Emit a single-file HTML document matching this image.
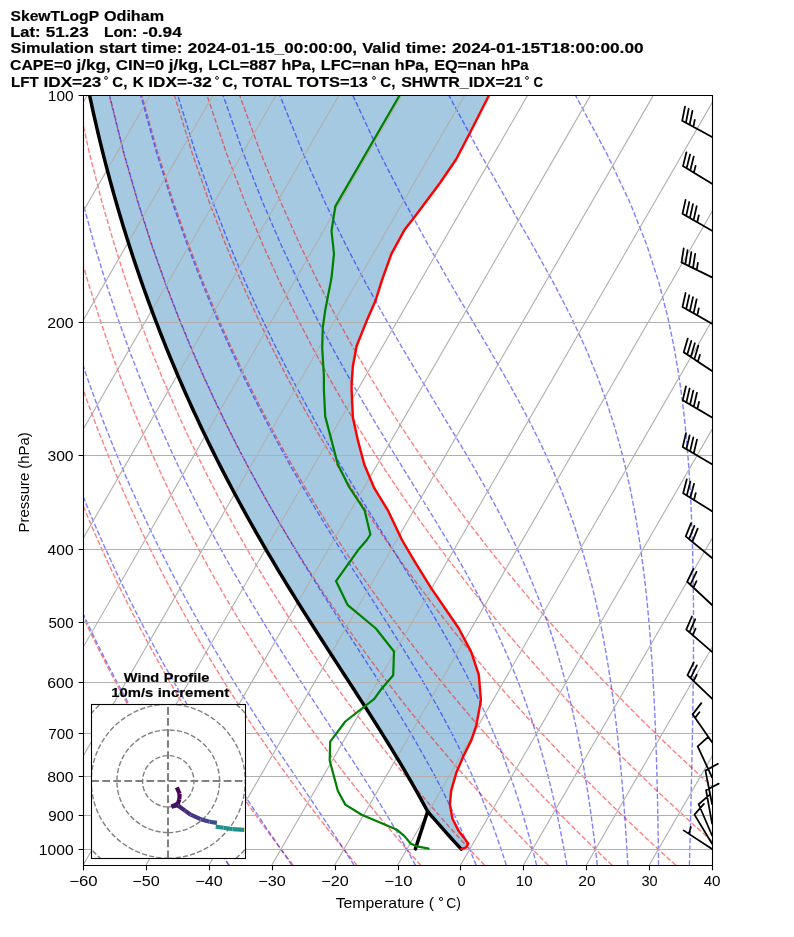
<!DOCTYPE html>
<html><head><meta charset="utf-8"><title>SkewT</title><style>html,body{margin:0;padding:0;background:#fff;width:794px;height:937px;overflow:hidden}</style></head><body>
<svg width="794" height="937" viewBox="0 0 794 937" style="display:block">
<defs><clipPath id="cm"><rect x="83.05" y="95.4" width="629" height="769.9"/></clipPath>
<clipPath id="ch"><rect x="91.25" y="704.25" width="154" height="154"/></clipPath></defs>
<rect width="794" height="937" fill="#fff"/>
<g clip-path="url(#cm)" stroke-linejoin="round">
<path d="M488.9 95.5L488.84 95.61L488.29 96.71L487.73 97.82L487.17 98.92L486.61 100.03L486.05 101.13L485.49 102.23L484.93 103.34L484.37 104.44L483.81 105.55L483.25 106.65L482.69 107.76L482.13 108.86L481.57 109.96L481.01 111.07L480.45 112.17L479.89 113.28L479.33 114.38L478.77 115.49L478.21 116.59L477.65 117.69L477.09 118.8L476.53 119.9L475.98 121.01L475.42 122.11L474.86 123.22L474.3 124.32L473.74 125.42L473.18 126.53L472.62 127.63L472.06 128.74L471.5 129.84L470.94 130.95L470.38 132.05L470 132.8L469.82 133.15L469.24 134.26L468.67 135.36L468.09 136.47L467.52 137.57L466.94 138.68L466.36 139.78L465.79 140.88L465.21 141.99L464.64 143.09L464.06 144.2L463.49 145.3L462.91 146.41L462.34 147.51L461.76 148.61L461.19 149.72L460.61 150.82L460.04 151.93L459.46 153.03L458.89 154.14L458.31 155.24L457.74 156.34L457.16 157.45L456.59 158.55L456.2 159.3L455.95 159.66L455.2 160.76L454.44 161.87L453.68 162.97L452.92 164.07L452.17 165.18L451.41 166.28L450.65 167.39L449.89 168.49L449.13 169.6L448.38 170.7L447.62 171.8L446.86 172.91L446.1 174.01L445.35 175.12L444.59 176.22L443.83 177.33L443.07 178.43L442.32 179.53L441.56 180.64L440.8 181.74L440.04 182.85L439.8 183.2L439.24 183.95L438.41 185.06L437.59 186.16L436.76 187.26L435.93 188.37L435.11 189.47L434.28 190.58L433.46 191.68L432.63 192.79L431.8 193.89L430.98 194.99L430.15 196.1L429.33 197.2L428.5 198.31L427.68 199.41L426.85 200.52L426.02 201.62L425.2 202.72L424.37 203.83L423.55 204.93L422.72 206.04L421.89 207.14L421.07 208.25L420.24 209.35L419.42 210.45L418.59 211.56L417.76 212.66L416.94 213.77L416.11 214.87L415.29 215.98L414.46 217.08L413.64 218.18L413.4 218.5L412.78 219.29L411.91 220.39L411.04 221.5L410.17 222.6L409.3 223.71L408.43 224.81L407.56 225.92L406.69 227.02L405.82 228.12L404.95 229.23L404.5 229.8L404.21 230.33L403.61 231.44L403.02 232.54L402.42 233.65L401.82 234.75L401.23 235.85L400.63 236.96L400.03 238.06L399.43 239.17L398.84 240.27L398.24 241.38L397.64 242.48L397.04 243.58L396.45 244.69L395.85 245.79L395.25 246.9L394.65 248L394.06 249.11L393.46 250.21L392.86 251.31L392.26 252.42L391.67 253.52L391.3 254.2L391.15 254.63L390.75 255.73L390.35 256.84L389.95 257.94L389.56 259.04L389.16 260.15L388.76 261.25L388.36 262.36L387.96 263.46L387.57 264.57L387.17 265.67L386.77 266.77L386.37 267.88L385.98 268.98L385.58 270.09L385.18 271.19L384.78 272.3L384.39 273.4L383.99 274.5L383.59 275.61L383.19 276.71L382.79 277.82L382.4 278.92L382 280.03L381.9 280.3L381.64 281.13L381.3 282.23L380.95 283.34L380.61 284.44L380.26 285.55L379.92 286.65L379.57 287.76L379.23 288.86L378.89 289.96L378.54 291.07L378.2 292.17L377.85 293.28L377.51 294.38L377.16 295.49L376.82 296.59L376.48 297.69L376.13 298.8L375.79 299.9L375.6 300.5L375.38 301.01L374.89 302.11L374.41 303.22L373.93 304.32L373.44 305.42L372.96 306.53L372.48 307.63L371.99 308.74L371.51 309.84L371.03 310.95L370.54 312.05L370.06 313.15L369.58 314.26L369.09 315.36L368.61 316.47L368.13 317.57L367.64 318.68L367.16 319.78L366.8 320.6L366.69 320.88L366.24 321.99L365.8 323.09L365.36 324.2L364.92 325.3L364.47 326.41L364.03 327.51L363.59 328.61L363.15 329.72L362.7 330.82L362.26 331.93L361.82 333.03L361.38 334.14L360.93 335.24L360.49 336.34L360.05 337.45L359.6 338.55L359.16 339.66L358.72 340.76L358.28 341.87L357.83 342.97L357.39 344.07L356.95 345.18L356.7 345.8L356.61 346.28L356.4 347.39L356.19 348.49L355.98 349.6L355.77 350.7L355.56 351.8L355.36 352.91L355.15 354.01L354.94 355.12L354.73 356.22L354.52 357.33L354.31 358.43L354.1 359.53L353.89 360.64L353.69 361.74L353.48 362.85L353.27 363.95L353.06 365.06L352.9 365.9L352.88 366.16L352.8 367.26L352.72 368.37L352.64 369.47L352.56 370.58L352.48 371.68L352.39 372.79L352.31 373.89L352.23 374.99L352.15 376.1L352.07 377.2L351.99 378.31L351.91 379.41L351.83 380.52L351.75 381.62L351.66 382.72L351.6 383.6L351.6 383.83L351.6 384.93L351.6 386.04L351.6 387.14L351.6 388.25L351.6 389.35L351.6 390L351.62 390.45L351.67 391.56L351.72 392.66L351.78 393.77L351.83 394.87L351.88 395.98L351.93 397.08L351.98 398.18L352.04 399.29L352.09 400.39L352.14 401.5L352.19 402.6L352.24 403.71L352.3 404.81L352.35 405.91L352.4 407.02L352.45 408.12L352.5 409.23L352.55 410.33L352.61 411.44L352.66 412.54L352.71 413.64L352.76 414.75L352.81 415.85L352.87 416.96L352.9 417.7L352.98 418.06L353.22 419.17L353.47 420.27L353.71 421.37L353.95 422.48L354.2 423.58L354.44 424.69L354.68 425.79L354.93 426.9L355.17 428L355.41 429.1L355.66 430.21L355.9 431.31L356.14 432.42L356.38 433.52L356.63 434.63L356.87 435.73L357.11 436.83L357.36 437.94L357.6 439.04L357.84 440.15L357.9 440.4L358.12 441.25L358.42 442.36L358.71 443.46L359 444.56L359.29 445.67L359.58 446.77L359.87 447.88L360.16 448.98L360.45 450.09L360.74 451.19L361.04 452.29L361.33 453.4L361.62 454.5L361.91 455.61L362.2 456.71L362.49 457.82L362.78 458.92L363.07 460.02L363.36 461.13L363.66 462.23L363.95 463.34L364.2 464.3L364.26 464.44L364.73 465.55L365.19 466.65L365.66 467.75L366.13 468.86L366.59 469.96L367.06 471.07L367.53 472.17L367.99 473.28L368.46 474.38L368.93 475.48L369.39 476.59L369.86 477.69L370.33 478.8L370.79 479.9L371.26 481.01L371.73 482.11L372.19 483.22L372.66 484.32L373.13 485.42L373.59 486.53L374.06 487.63L374.3 488.2L374.63 488.74L375.3 489.84L375.98 490.95L376.66 492.05L377.33 493.15L378.01 494.26L378.69 495.36L379.36 496.47L380.04 497.57L380.71 498.68L381.39 499.78L382.07 500.88L382.74 501.99L383.42 503.09L384.1 504.2L384.77 505.3L385.45 506.41L386.12 507.51L386.8 508.61L387.48 509.72L388.15 510.82L388.2 510.9L388.69 511.93L389.21 513.03L389.73 514.14L390.25 515.24L390.77 516.34L391.3 517.45L391.82 518.55L392.34 519.66L392.86 520.76L393.38 521.87L393.91 522.97L394.43 524.07L394.95 525.18L395.47 526.28L395.99 527.39L396.52 528.49L397.04 529.6L397.56 530.7L398.08 531.8L398.61 532.91L399.13 534.01L399.5 534.8L399.65 535.12L400.18 536.22L400.71 537.33L401.25 538.43L401.78 539.53L402 540L402.38 540.64L403.03 541.74L403.68 542.85L404.33 543.95L404.98 545.06L405.63 546.16L406.28 547.26L406.93 548.37L407.58 549.47L408.23 550.58L408.88 551.68L409.53 552.79L410.18 553.89L410.83 554.99L411.48 556.1L412.13 557.2L412.78 558.31L413.43 559.41L414.08 560.52L414.6 561.4L414.74 561.62L415.42 562.72L416.1 563.83L416.79 564.93L417.47 566.04L418.15 567.14L418.84 568.25L419.52 569.35L420.2 570.45L420.89 571.56L421.57 572.66L422.25 573.77L422.94 574.87L423.62 575.98L424.3 577.08L424.99 578.18L425.67 579.29L426.35 580.39L427.04 581.5L427.72 582.6L428.4 583.71L429.09 584.81L429.77 585.91L430.45 587.02L431 587.9L431.15 588.12L431.91 589.23L432.67 590.33L433.43 591.44L434.19 592.54L434.94 593.64L435.7 594.75L436.46 595.85L437.22 596.96L437.98 598.06L438.73 599.17L439.49 600.27L440.25 601.37L441.01 602.48L441.77 603.58L442.53 604.69L443.28 605.79L444.04 606.9L444.8 608L445.56 609.1L446.32 610.21L447.08 611.31L447.84 612.42L448.6 613.52L449.36 614.63L450.12 615.73L450.88 616.83L451.64 617.94L452.4 619.04L453.16 620.15L453.92 621.25L454.68 622.36L455.44 623.46L456.2 624.56L456.96 625.67L457.72 626.77L458.48 627.88L458.7 628.2L459.11 628.98L459.69 630.09L460.28 631.19L460.86 632.29L461.44 633.4L462.02 634.5L462.61 635.61L463.19 636.71L463.77 637.82L464.35 638.92L464.93 640.02L465.52 641.13L466.1 642.23L466.68 643.34L467.26 644.44L467.84 645.55L468.43 646.65L469.01 647.75L469.59 648.86L470.17 649.96L470.76 651.07L471.3 652.1L471.32 652.17L471.69 653.28L472.05 654.38L472.42 655.48L472.78 656.59L473.15 657.69L473.51 658.8L473.88 659.9L474.24 661.01L474.61 662.11L474.97 663.21L475.34 664.32L475.7 665.42L476.07 666.53L476.43 667.63L476.8 668.74L477.16 669.84L477.53 670.94L477.89 672.05L478.26 673.15L478.62 674.26L478.8 674.8L478.85 675.36L478.94 676.47L479.03 677.57L479.12 678.67L479.21 679.78L479.31 680.88L479.4 681.99L479.49 683.09L479.58 684.2L479.68 685.3L479.77 686.4L479.86 687.51L479.95 688.61L480.04 689.72L480.14 690.82L480.23 691.93L480.32 693.03L480.41 694.13L480.5 695.24L480.6 696.34L480.69 697.45L480.78 698.55L480.87 699.66L480.9 700L480.78 700.76L480.61 701.86L480.43 702.97L480.26 704.07L480.1 705.1L480.09 705.18L479.88 706.28L479.67 707.39L479.46 708.49L479.25 709.59L479.05 710.7L478.84 711.8L478.63 712.91L478.42 714.01L478.22 715.12L478.01 716.22L477.8 717.32L477.59 718.43L477.38 719.53L477.18 720.64L476.97 721.74L476.76 722.85L476.55 723.95L476.35 725.05L476.3 725.3L476.02 726.16L475.65 727.26L475.28 728.37L474.92 729.47L474.55 730.58L474.19 731.68L473.82 732.78L473.46 733.89L473.09 734.99L472.72 736.1L472.36 737.2L471.99 738.31L471.63 739.41L471.3 740.4L471.24 740.52L470.69 741.62L470.13 742.72L469.57 743.83L469.02 744.93L468.46 746.04L467.91 747.14L467.35 748.25L466.8 749.35L466.24 750.45L465.68 751.56L465.13 752.66L464.57 753.77L464.02 754.87L463.7 755.5L463.5 755.98L463.03 757.08L462.56 758.18L462.09 759.29L461.62 760.39L461.14 761.5L460.67 762.6L460.2 763.71L459.73 764.81L459.26 765.91L458.79 767.02L458.32 768.12L457.85 769.23L457.38 770.33L456.91 771.44L456.44 772.54L456.2 773.1L456.04 773.64L455.73 774.75L455.41 775.85L455.09 776.96L454.77 778.06L454.45 779.17L454.13 780.27L453.82 781.37L453.5 782.48L453.18 783.58L452.86 784.69L452.54 785.79L452.23 786.9L451.91 788L451.59 789.1L451.27 790.21L451.1 790.8L451.06 791.31L450.96 792.42L450.86 793.52L450.77 794.63L450.67 795.73L450.58 796.83L450.48 797.94L450.38 799.04L450.29 800.15L450.19 801.25L450.1 802.36L450 803.46L449.9 804.56L449.9 804.6L450.09 805.67L450.29 806.77L450.49 807.88L450.69 808.98L450.89 810.09L451.09 811.19L451.28 812.29L451.48 813.4L451.68 814.5L451.88 815.61L452.08 816.71L452.28 817.82L452.4 818.5L452.61 818.92L453.16 820.02L453.71 821.13L454.27 822.23L454.82 823.34L455.37 824.44L455.92 825.55L456.47 826.65L457.03 827.75L457.58 828.86L458.13 829.96L458.68 831.07L458.7 831.1L459.55 832.17L460.43 833.28L461.3 834.38L462.18 835.48L463.06 836.59L463.7 837.4L463.91 837.69L464.72 838.8L465.53 839.9L466.33 841.01L467.14 842.11L467.95 843.21L468.3 843.7L467.95 844.32L467.32 845.42L466.7 846.53L466.2 847.4L465.56 847.63L462.49 848.74L460.78 848.74L459.77 847.63L459.56 847.4L458.76 846.53L457.76 845.42L456.75 844.32L456.19 843.7L455.75 843.21L454.75 842.11L453.75 841.01L452.75 839.9L451.76 838.8L450.77 837.69L450.5 837.4L449.77 836.59L448.78 835.48L447.79 834.38L446.8 833.28L445.82 832.17L444.86 831.1L444.83 831.07L443.85 829.96L442.87 828.86L441.89 827.75L440.91 826.65L439.93 825.55L438.96 824.44L437.98 823.34L437.01 822.23L436.04 821.13L435.07 820.02L434.1 818.92L433.74 818.5L433.14 817.82L432.17 816.71L431.21 815.61L430.25 814.5L429.29 813.4L428.33 812.29L427.46 811.19L426.87 810.09L426.28 808.98L425.68 807.88L425.09 806.77L424.5 805.67L423.92 804.6L423.9 804.56L423.3 803.46L422.69 802.36L422.09 801.25L421.49 800.15L420.89 799.04L420.27 797.94L419.66 796.83L419.05 795.73L418.44 794.63L417.82 793.52L417.21 792.42L416.58 791.31L416.29 790.8L415.96 790.21L415.34 789.1L414.72 788L414.09 786.9L413.46 785.79L412.83 784.69L412.2 783.58L411.57 782.48L410.94 781.37L410.3 780.27L409.66 779.17L409.02 778.06L408.38 776.96L407.74 775.85L407.1 774.75L406.45 773.64L406.13 773.1L405.8 772.54L405.16 771.44L404.51 770.33L403.86 769.23L403.21 768.12L402.55 767.02L401.89 765.91L401.23 764.81L400.58 763.71L399.92 762.6L399.26 761.5L398.59 760.39L397.93 759.29L397.26 758.18L396.6 757.08L395.93 755.98L395.64 755.5L395.26 754.87L394.59 753.77L393.92 752.66L393.24 751.56L392.57 750.45L391.9 749.35L391.22 748.25L390.54 747.14L389.86 746.04L389.18 744.93L388.5 743.83L387.82 742.72L387.13 741.62L386.45 740.52L386.38 740.4L385.76 739.41L385.08 738.31L384.39 737.2L383.7 736.1L383.01 734.99L382.32 733.89L381.62 732.78L380.93 731.68L380.24 730.58L379.54 729.47L378.85 728.37L378.15 727.26L377.45 726.16L376.91 725.3L376.76 725.05L376.06 723.95L375.36 722.85L374.66 721.74L373.95 720.64L373.25 719.53L372.55 718.43L371.85 717.32L371.14 716.22L370.44 715.12L369.73 714.01L369.03 712.91L368.32 711.8L367.61 710.7L366.9 709.59L366.19 708.49L365.48 707.39L364.77 706.28L364.06 705.18L364.01 705.1L363.35 704.07L362.64 702.97L361.93 701.86L361.22 700.76L360.73 700L360.51 699.66L359.79 698.55L359.08 697.45L358.36 696.34L357.65 695.24L356.94 694.13L356.22 693.03L355.51 691.93L354.79 690.82L354.08 689.72L353.36 688.61L352.64 687.51L351.93 686.4L351.21 685.3L350.49 684.2L349.78 683.09L349.06 681.99L348.34 680.88L347.63 679.78L346.91 678.67L346.19 677.57L345.47 676.47L344.76 675.36L344.39 674.8L344.04 674.26L343.32 673.15L342.6 672.05L341.89 670.94L341.17 669.84L340.45 668.74L339.74 667.63L339.02 666.53L338.3 665.42L337.58 664.32L336.87 663.21L336.15 662.11L335.43 661.01L334.72 659.9L334 658.8L333.29 657.69L332.57 656.59L331.85 655.48L331.14 654.38L330.42 653.28L329.71 652.17L329.66 652.1L328.99 651.07L328.28 649.96L327.57 648.86L326.85 647.75L326.14 646.65L325.43 645.55L324.72 644.44L324 643.34L323.29 642.23L322.58 641.13L321.87 640.02L321.16 638.92L320.45 637.82L319.74 636.71L319.03 635.61L318.32 634.5L317.62 633.4L316.91 632.29L316.2 631.19L315.5 630.09L314.79 628.98L314.29 628.2L314.08 627.88L313.38 626.77L312.68 625.67L311.97 624.56L311.27 623.46L310.57 622.36L309.86 621.25L309.16 620.15L308.46 619.04L307.77 617.94L307.07 616.83L306.37 615.73L305.67 614.63L304.97 613.52L304.28 612.42L303.58 611.31L302.89 610.21L302.19 609.1L301.5 608L300.8 606.9L300.11 605.79L299.42 604.69L298.73 603.58L298.04 602.48L297.35 601.37L296.66 600.27L295.98 599.17L295.29 598.06L294.6 596.96L293.92 595.85L293.23 594.75L292.55 593.64L291.87 592.54L291.19 591.44L290.5 590.33L289.82 589.23L289.15 588.12L289.01 587.9L288.47 587.02L287.79 585.91L287.11 584.81L286.44 583.71L285.76 582.6L285.09 581.5L284.42 580.39L283.75 579.29L283.07 578.18L282.4 577.08L281.74 575.98L281.07 574.87L280.4 573.77L279.73 572.66L279.07 571.56L278.4 570.45L277.74 569.35L277.08 568.25L276.42 567.14L275.75 566.04L275.09 564.93L274.44 563.83L273.78 562.72L273.12 561.62L272.99 561.4L272.47 560.52L271.81 559.41L271.16 558.31L270.51 557.2L269.85 556.1L269.2 554.99L268.55 553.89L267.9 552.79L267.26 551.68L266.61 550.58L265.97 549.47L265.32 548.37L264.67 547.26L264.03 546.16L263.39 545.06L262.75 543.95L262.11 542.85L261.47 541.74L260.83 540.64L260.47 540L260.2 539.53L259.57 538.43L258.93 537.33L258.3 536.22L257.66 535.12L257.48 534.8L257.03 534.01L256.4 532.91L255.78 531.8L255.15 530.7L254.52 529.6L253.89 528.49L253.27 527.39L252.65 526.28L252.03 525.18L251.4 524.07L250.78 522.97L250.16 521.87L249.54 520.76L248.93 519.66L248.31 518.55L247.7 517.45L247.08 516.34L246.47 515.24L245.86 514.14L245.25 513.03L244.64 511.93L244.07 510.9L244.03 510.82L243.42 509.72L242.82 508.61L242.21 507.51L241.61 506.41L241.01 505.3L240.4 504.2L239.8 503.09L239.2 501.99L238.61 500.88L238.01 499.78L237.41 498.68L236.81 497.57L236.22 496.47L235.63 495.36L235.04 494.26L234.45 493.15L233.86 492.05L233.27 490.95L232.68 489.84L232.1 488.74L231.81 488.2L231.51 487.63L230.93 486.53L230.34 485.42L229.76 484.32L229.18 483.22L228.6 482.11L228.02 481.01L227.45 479.9L226.87 478.8L226.29 477.69L225.72 476.59L225.15 475.48L224.58 474.38L224 473.28L223.43 472.17L222.87 471.07L222.3 469.96L221.74 468.86L221.17 467.75L220.6 466.65L220.04 465.55L219.48 464.44L219.41 464.3L218.92 463.34L218.36 462.23L217.8 461.13L217.24 460.02L216.69 458.92L216.14 457.82L215.58 456.71L215.03 455.61L214.47 454.5L213.92 453.4L213.38 452.29L212.83 451.19L212.28 450.09L211.73 448.98L211.19 447.88L210.65 446.77L210.1 445.67L209.56 444.56L209.02 443.46L208.48 442.36L207.94 441.25L207.53 440.4L207.41 440.15L206.87 439.04L206.33 437.94L205.8 436.83L205.26 435.73L204.74 434.63L204.21 433.52L203.68 432.42L203.15 431.31L202.62 430.21L202.09 429.1L201.57 428L201.05 426.9L200.52 425.79L200 424.69L199.48 423.58L198.96 422.48L198.44 421.37L197.92 420.27L197.41 419.17L196.89 418.06L196.72 417.7L196.38 416.96L195.86 415.85L195.35 414.75L194.84 413.64L194.33 412.54L193.82 411.44L193.32 410.33L192.81 409.23L192.31 408.12L191.8 407.02L191.3 405.91L190.79 404.81L190.29 403.71L189.79 402.6L189.3 401.5L188.8 400.39L188.3 399.29L187.8 398.18L187.31 397.08L186.82 395.98L186.33 394.87L185.83 393.77L185.34 392.66L184.85 391.56L184.37 390.45L184.17 390L183.88 389.35L183.39 388.25L182.91 387.14L182.42 386.04L181.94 384.93L181.46 383.83L181.36 383.6L180.98 382.72L180.5 381.62L180.02 380.52L179.54 379.41L179.07 378.31L178.59 377.2L178.12 376.1L177.64 374.99L177.17 373.89L176.7 372.79L176.23 371.68L175.76 370.58L175.3 369.47L174.83 368.37L174.36 367.26L173.9 366.16L173.79 365.9L173.44 365.06L172.97 363.95L172.51 362.85L172.05 361.74L171.59 360.64L171.13 359.53L170.68 358.43L170.22 357.33L169.76 356.22L169.31 355.12L168.86 354.01L168.41 352.91L167.96 351.8L167.5 350.7L167.05 349.6L166.61 348.49L166.16 347.39L165.72 346.28L165.52 345.8L165.27 345.18L164.83 344.07L164.38 342.97L163.94 341.87L163.5 340.76L163.06 339.66L162.63 338.55L162.19 337.45L161.75 336.34L161.32 335.24L160.88 334.14L160.45 333.03L160.02 331.93L159.58 330.82L159.16 329.72L158.73 328.61L158.3 327.51L157.87 326.41L157.44 325.3L157.02 324.2L156.6 323.09L156.17 321.99L155.75 320.88L155.64 320.6L155.33 319.78L154.91 318.68L154.49 317.57L154.07 316.47L153.66 315.36L153.24 314.26L152.82 313.15L152.41 312.05L152 310.95L151.59 309.84L151.18 308.74L150.77 307.63L150.35 306.53L149.95 305.42L149.54 304.32L149.14 303.22L148.73 302.11L148.33 301.01L148.14 300.5L147.92 299.9L147.52 298.8L147.12 297.69L146.72 296.59L146.32 295.49L145.92 294.38L145.53 293.28L145.13 292.17L144.74 291.07L144.35 289.96L143.95 288.86L143.56 287.76L143.17 286.65L142.78 285.55L142.39 284.44L142 283.34L141.61 282.23L141.23 281.13L140.94 280.3L140.85 280.03L140.46 278.92L140.08 277.82L139.7 276.71L139.31 275.61L138.93 274.5L138.56 273.4L138.18 272.3L137.8 271.19L137.42 270.09L137.05 268.98L136.68 267.88L136.3 266.77L135.93 265.67L135.56 264.57L135.19 263.46L134.82 262.36L134.45 261.25L134.08 260.15L133.72 259.04L133.35 257.94L132.99 256.84L132.62 255.73L132.26 254.63L132.12 254.2L131.9 253.52L131.54 252.42L131.18 251.31L130.82 250.21L130.46 249.11L130.11 248L129.75 246.9L129.4 245.79L129.04 244.69L128.69 243.58L128.34 242.48L127.99 241.38L127.64 240.27L127.29 239.17L126.94 238.06L126.59 236.96L126.25 235.85L125.9 234.75L125.56 233.65L125.21 232.54L124.87 231.44L124.53 230.33L124.36 229.8L124.19 229.23L123.85 228.12L123.51 227.02L123.17 225.92L122.83 224.81L122.5 223.71L122.16 222.6L121.83 221.5L121.49 220.39L121.16 219.29L120.93 218.5L120.83 218.18L120.5 217.08L120.17 215.98L119.84 214.87L119.52 213.77L119.19 212.66L118.87 211.56L118.54 210.45L118.22 209.35L117.89 208.25L117.57 207.14L117.25 206.04L116.93 204.93L116.61 203.83L116.29 202.72L115.97 201.62L115.66 200.52L115.35 199.41L115.03 198.31L114.72 197.2L114.4 196.1L114.09 194.99L113.78 193.89L113.47 192.79L113.16 191.68L112.85 190.58L112.54 189.47L112.24 188.37L111.94 187.26L111.63 186.16L111.33 185.06L111.02 183.95L110.82 183.2L110.72 182.85L110.42 181.74L110.12 180.64L109.82 179.53L109.52 178.43L109.22 177.33L108.93 176.22L108.64 175.12L108.34 174.01L108.05 172.91L107.75 171.8L107.46 170.7L107.17 169.6L106.88 168.49L106.59 167.39L106.3 166.28L106.01 165.18L105.73 164.07L105.44 162.97L105.16 161.87L104.88 160.76L104.59 159.66L104.5 159.3L104.31 158.55L104.03 157.45L103.75 156.34L103.47 155.24L103.19 154.14L102.91 153.03L102.63 151.93L102.36 150.82L102.09 149.72L101.81 148.61L101.54 147.51L101.26 146.41L100.99 145.3L100.72 144.2L100.45 143.09L100.18 141.99L99.91 140.88L99.65 139.78L99.38 138.68L99.12 137.57L98.85 136.47L98.59 135.36L98.32 134.26L98.06 133.15L97.98 132.8L97.8 132.05L97.54 130.95L97.28 129.84L97.02 128.74L96.77 127.63L96.51 126.53L96.26 125.42L96 124.32L95.75 123.22L95.49 122.11L95.24 121.01L94.99 119.9L94.74 118.8L94.49 117.69L94.24 116.59L93.99 115.49L93.74 114.38L93.5 113.28L93.25 112.17L93.01 111.07L92.76 109.96L92.52 108.86L92.28 107.76L92.04 106.65L91.8 105.55L91.55 104.44L91.31 103.34L91.08 102.23L90.84 101.13L90.61 100.03L90.37 98.92L90.13 97.82L89.9 96.71L89.67 95.61L89.65 95.5Z" fill="#1f77b4" fill-opacity="0.4"/>
<path d="M229.44 865.3L225.06 859.2L220.65 852.98L216.19 846.64L211.7 840.18L207.16 833.58L202.57 826.85L197.94 819.98L193.27 812.97L188.54 805.79L183.77 798.46L178.95 790.96L174.08 783.29L169.16 775.43L164.18 767.37L159.14 759.12L154.05 750.65L148.9 741.95L143.69 733.02L138.42 723.83L133.08 714.39L127.68 704.66L122.2 694.63L116.66 684.29L111.05 673.61L105.36 662.57L99.6 651.14L93.75 639.3L87.83 627.02L81.82 614.25L75.72 600.97L69.54 587.13L63.26 572.68L56.89 557.56L50.43 541.7L43.86 525.04L37.2 507.49L30.44 488.94L23.57 469.28L16.61 448.36L9.55 426.02L2.41 402.03L-4.82 376.15L-12.1 348.05L-19.41 317.3L-26.72 283.37L-33.95 245.51L-40.98 202.69L-47.64 153.42L-53.58 95.4M293.22 865.3L288.51 859.2L283.75 852.98L278.95 846.64L274.1 840.18L269.2 833.58L264.25 826.85L259.25 819.98L254.2 812.97L249.1 805.79L243.94 798.46L238.73 790.96L233.46 783.29L228.13 775.43L222.74 767.37L217.28 759.12L211.76 750.65L206.17 741.95L200.52 733.02L194.79 723.83L188.99 714.39L183.12 704.66L177.16 694.63L171.13 684.29L165.01 673.61L158.8 662.57L152.51 651.14L146.12 639.3L139.64 627.02L133.05 614.25L126.37 600.97L119.58 587.13L112.67 572.68L105.65 557.56L98.52 541.7L91.26 525.04L83.88 507.49L76.36 488.94L68.72 469.28L60.94 448.36L53.03 426.02L44.98 402.03L36.81 376.15L28.52 348.05L20.12 317.3L11.67 283.37L3.19 245.51L-5.2 202.69L-13.36 153.42L-21.01 95.4M357 865.3L351.95 859.2L346.85 852.98L341.7 846.64L336.5 840.18L331.24 833.58L325.93 826.85L320.56 819.98L315.14 812.97L309.66 805.79L304.11 798.46L298.51 790.96L292.84 783.29L287.1 775.43L281.29 767.37L275.42 759.12L269.47 750.65L263.45 741.95L257.35 733.02L251.17 723.83L244.91 714.39L238.56 704.66L232.12 694.63L225.59 684.29L218.97 673.61L212.24 662.57L205.42 651.14L198.49 639.3L191.45 627.02L184.29 614.25L177.01 600.97L169.61 587.13L162.08 572.68L154.42 557.56L146.61 541.7L138.66 525.04L130.55 507.49L122.29 488.94L113.87 469.28L105.27 448.36L96.5 426.02L87.56 402.03L78.43 376.15L69.13 348.05L59.66 317.3L50.05 283.37L40.33 245.51L30.57 202.69L20.91 153.42L11.57 95.4M420.79 865.3L415.39 859.2L409.95 852.98L404.45 846.64L398.89 840.18L393.28 833.58L387.61 826.85L381.87 819.98L376.07 812.97L370.21 805.79L364.28 798.46L358.28 790.96L352.21 783.29L346.07 775.43L339.85 767.37L333.56 759.12L327.18 750.65L320.72 741.95L314.18 733.02L307.54 723.83L300.82 714.39L294 704.66L287.08 694.63L280.05 684.29L272.93 673.61L265.69 662.57L258.33 651.14L250.85 639.3L243.25 627.02L235.52 614.25L227.66 600.97L219.65 587.13L211.49 572.68L203.18 557.56L194.7 541.7L186.06 525.04L177.23 507.49L168.22 488.94L159.01 469.28L149.6 448.36L139.98 426.02L130.13 402.03L120.05 376.15L109.75 348.05L99.2 317.3L88.44 283.37L77.47 245.51L66.35 202.69L55.18 153.42L44.15 95.4M484.57 865.3L478.84 859.2L473.05 852.98L467.2 846.64L461.29 840.18L455.32 833.58L449.29 826.85L443.18 819.98L437.01 812.97L430.77 805.79L424.45 798.46L418.06 790.96L411.59 783.29L405.04 775.43L398.41 767.37L391.7 759.12L384.89 750.65L378 741.95L371.01 733.02L363.92 723.83L356.73 714.39L349.44 704.66L342.03 694.63L334.52 684.29L326.88 673.61L319.13 662.57L311.24 651.14L303.22 639.3L295.06 627.02L286.76 614.25L278.3 600.97L269.68 587.13L260.9 572.68L251.94 557.56L242.79 541.7L233.45 525.04L223.91 507.49L214.15 488.94L204.16 469.28L193.93 448.36L183.45 426.02L172.7 402.03L161.68 376.15L150.36 348.05L138.74 317.3L126.82 283.37L114.61 245.51L102.13 202.69L89.45 153.42L76.73 95.4M548.35 865.3L542.28 859.2L536.15 852.98L529.96 846.64L523.69 840.18L517.36 833.58L510.96 826.85L504.49 819.98L497.95 812.97L491.32 805.79L484.62 798.46L477.84 790.96L470.97 783.29L464.01 775.43L456.97 767.37L449.83 759.12L442.6 750.65L435.27 741.95L427.84 733.02L420.3 723.83L412.64 714.39L404.88 704.66L396.99 694.63L388.98 684.29L380.84 673.61L372.57 662.57L364.15 651.14L355.59 639.3L346.87 627.02L337.99 614.25L328.95 600.97L319.72 587.13L310.31 572.68L300.7 557.56L290.89 541.7L280.85 525.04L270.59 507.49L260.08 488.94L249.31 469.28L238.26 448.36L226.92 426.02L215.28 402.03L203.3 376.15L190.97 348.05L178.28 317.3L165.21 283.37L151.75 245.51L137.9 202.69L123.72 153.42L109.31 95.4M612.13 865.3L605.73 859.2L599.25 852.98L592.71 846.64L586.09 840.18L579.41 833.58L572.64 826.85L565.8 819.98L558.88 812.97L551.88 805.79L544.79 798.46L537.61 790.96L530.35 783.29L522.99 775.43L515.53 767.37L507.97 759.12L500.31 750.65L492.55 741.95L484.67 733.02L476.67 723.83L468.56 714.39L460.32 704.66L451.95 694.63L443.45 684.29L434.8 673.61L426.01 662.57L417.06 651.14L407.96 639.3L398.68 627.02L389.23 614.25L379.59 600.97L369.76 587.13L359.72 572.68L349.46 557.56L338.98 541.7L328.25 525.04L317.26 507.49L306 488.94L294.45 469.28L282.59 448.36L270.4 426.02L257.85 402.03L244.92 376.15L231.59 348.05L217.82 317.3L203.6 283.37L188.89 245.51L173.68 202.69L157.99 153.42L141.89 95.4M675.92 865.3L669.17 859.2L662.35 852.98L655.46 846.64L648.49 840.18L641.45 833.58L634.32 826.85L627.11 819.98L619.82 812.97L612.43 805.79L604.96 798.46L597.39 790.96L589.72 783.29L581.96 775.43L574.09 767.37L566.11 759.12L558.02 750.65L549.82 741.95L541.5 733.02L533.05 723.83L524.47 714.39L515.76 704.66L506.91 694.63L497.91 684.29L488.76 673.61L479.45 662.57L469.97 651.14L460.32 639.3L450.49 627.02L440.46 614.25L430.24 600.97L419.79 587.13L409.13 572.68L398.22 557.56L387.07 541.7L375.65 525.04L363.94 507.49L351.93 488.94L339.6 469.28L326.92 448.36L313.87 426.02L300.42 402.03L286.55 376.15L272.2 348.05L257.36 317.3L241.98 283.37L226.02 245.51L209.46 202.69L192.26 153.42L174.47 95.4M739.7 865.3L732.62 859.2L725.45 852.98L718.22 846.64L710.89 840.18L703.49 833.58L696 826.85L688.42 819.98L680.75 812.97L672.99 805.79L665.13 798.46L657.17 790.96L649.1 783.29L640.93 775.43L632.65 767.37L624.25 759.12L615.73 750.65L607.09 741.95L598.33 733.02L589.42 723.83L580.38 714.39L571.2 704.66L561.86 694.63L552.37 684.29L542.72 673.61L532.89 662.57L522.88 651.14L512.69 639.3L502.3 627.02L491.7 614.25L480.88 600.97L469.83 587.13L458.54 572.68L446.99 557.56L435.16 541.7L423.04 525.04L410.62 507.49L397.86 488.94L384.75 469.28L371.25 448.36L357.35 426.02L343 402.03L328.17 376.15L312.82 348.05L296.9 317.3L280.37 283.37L263.16 245.51L245.23 202.69L226.53 153.42L207.05 95.4M803.48 865.3L796.06 859.2L788.56 852.98L780.97 846.64L773.29 840.18L765.53 833.58L757.68 826.85L749.73 819.98L741.69 812.97L733.54 805.79L725.3 798.46L716.94 790.96L708.48 783.29L699.9 775.43L691.21 767.37L682.39 759.12L673.44 750.65L664.37 741.95L655.15 733.02L645.8 723.83L636.3 714.39L626.64 704.66L616.82 694.63L606.84 684.29L596.68 673.61L586.33 662.57L575.79 651.14L565.06 639.3L554.11 627.02L542.93 614.25L531.52 600.97L519.87 587.13L507.95 572.68L495.75 557.56L483.25 541.7L470.44 525.04L457.3 507.49L443.79 488.94L429.89 469.28L415.58 448.36L400.82 426.02L385.57 402.03L369.79 376.15L353.43 348.05L336.44 317.3L318.75 283.37L300.3 245.51L281.01 202.69L260.8 153.42L239.63 95.4" stroke="#ff0000" stroke-opacity="0.5" stroke-width="1.39" fill="none" stroke-dasharray="5.14 2.22"/>
<path d="M228.87 865.3L224.73 859.2L220.53 852.98L216.27 846.64L211.96 840.18L207.58 833.58L203.15 826.85L198.65 819.98L194.1 812.97L189.48 805.79L184.81 798.46L180.07 790.96L175.27 783.29L170.41 775.43L165.49 767.37L160.5 759.12L155.45 750.65L150.33 741.95L145.14 733.02L139.89 723.83L134.57 714.39L129.17 704.66L123.71 694.63L118.17 684.29L112.56 673.61L106.86 662.57L101.09 651.14L95.24 639.3L89.31 627.02L83.28 614.25L77.18 600.97L70.98 587.13L64.68 572.68L58.3 557.56L51.81 541.7L45.23 525.04L38.54 507.49L31.76 488.94L24.87 469.28L17.89 448.36L10.81 426.02L3.64 402.03L-3.62 376.15L-10.93 348.05L-18.27 317.3L-25.61 283.37L-32.87 245.51L-39.95 202.69L-46.65 153.42L-52.65 95.4M291.85 865.3L287.7 859.2L283.46 852.98L279.15 846.64L274.74 840.18L270.26 833.58L265.7 826.85L261.05 819.98L256.32 812.97L251.5 805.79L246.6 798.46L241.62 790.96L236.56 783.29L231.41 775.43L226.18 767.37L220.86 759.12L215.46 750.65L209.97 741.95L204.4 733.02L198.74 723.83L192.99 714.39L187.15 704.66L181.22 694.63L175.2 684.29L169.09 673.61L162.88 662.57L156.58 651.14L150.17 639.3L143.67 627.02L137.05 614.25L130.33 600.97L123.5 587.13L116.56 572.68L109.49 557.56L102.31 541.7L95 525.04L87.56 507.49L79.99 488.94L72.28 469.28L64.44 448.36L56.46 426.02L48.34 402.03L40.09 376.15L31.72 348.05L23.25 317.3L14.7 283.37L6.13 245.51L-2.38 202.69L-10.66 153.42L-18.43 95.4M354.12 865.3L350.23 859.2L346.24 852.98L342.13 846.64L337.92 840.18L333.59 833.58L329.15 826.85L324.6 819.98L319.93 812.97L315.14 805.79L310.24 798.46L305.21 790.96L300.07 783.29L294.81 775.43L289.43 767.37L283.93 759.12L278.31 750.65L272.57 741.95L266.72 733.02L260.74 723.83L254.64 714.39L248.43 704.66L242.09 694.63L235.63 684.29L229.05 673.61L222.34 662.57L215.52 651.14L208.56 639.3L201.48 627.02L194.26 614.25L186.91 600.97L179.43 587.13L171.8 572.68L164.03 557.56L156.1 541.7L148.02 525.04L139.78 507.49L131.38 488.94L122.8 469.28L114.05 448.36L105.11 426.02L95.99 402.03L86.67 376.15L77.17 348.05L67.5 317.3L57.65 283.37L47.69 245.51L37.66 202.69L27.69 153.42L18.03 95.4M415.49 865.3L412.2 859.2L408.8 852.98L405.27 846.64L401.62 840.18L397.83 833.58L393.9 826.85L389.83 819.98L385.62 812.97L381.25 805.79L376.73 798.46L372.05 790.96L367.21 783.29L362.21 775.43L357.03 767.37L351.69 759.12L346.17 750.65L340.49 741.95L334.62 733.02L328.58 723.83L322.37 714.39L315.97 704.66L309.4 694.63L302.66 684.29L295.74 673.61L288.64 662.57L281.36 651.14L273.91 639.3L266.29 627.02L258.48 614.25L250.5 600.97L242.34 587.13L233.99 572.68L225.46 557.56L216.73 541.7L207.81 525.04L198.69 507.49L189.35 488.94L179.8 469.28L170.02 448.36L160.01 426.02L149.75 402.03L139.24 376.15L128.47 348.05L117.43 317.3L106.13 283.37L94.59 245.51L82.84 202.69L70.98 153.42L59.17 95.4M476.14 865.3L473.72 859.2L471.19 852.98L468.55 846.64L465.79 840.18L462.91 833.58L459.9 826.85L456.76 819.98L453.47 812.97L450.02 805.79L446.41 798.46L442.63 790.96L438.67 783.29L434.53 775.43L430.18 767.37L425.62 759.12L420.85 750.65L415.85 741.95L410.62 733.02L405.14 723.83L399.41 714.39L393.42 704.66L387.17 694.63L380.64 684.29L373.85 673.61L366.78 662.57L359.42 651.14L351.79 639.3L343.88 627.02L335.7 614.25L327.23 600.97L318.49 587.13L309.47 572.68L300.18 557.56L290.61 541.7L280.77 525.04L270.65 507.49L260.24 488.94L249.55 469.28L238.55 448.36L227.24 426.02L215.61 402.03L203.64 376.15L191.31 348.05L178.62 317.3L165.53 283.37L152.06 245.51L138.21 202.69L124.01 153.42L109.59 95.4M506.35 865.3L504.39 859.2L502.35 852.98L500.21 846.64L497.97 840.18L495.63 833.58L493.18 826.85L490.6 819.98L487.9 812.97L485.06 805.79L482.07 798.46L478.93 790.96L475.62 783.29L472.13 775.43L468.46 767.37L464.58 759.12L460.48 750.65L456.16 741.95L451.59 733.02L446.77 723.83L441.67 714.39L436.29 704.66L430.61 694.63L424.61 684.29L418.29 673.61L411.64 662.57L404.63 651.14L397.28 639.3L389.56 627.02L381.48 614.25L373.03 600.97L364.22 587.13L355.04 572.68L345.5 557.56L335.6 541.7L325.34 525.04L314.73 507.49L303.76 488.94L292.42 469.28L280.73 448.36L268.66 426.02L256.2 402.03L243.35 376.15L230.08 348.05L216.36 317.3L202.18 283.37L187.52 245.51L172.37 202.69L156.73 153.42L140.69 95.4M536.58 865.3L535.08 859.2L533.51 852.98L531.87 846.64L530.16 840.18L528.36 833.58L526.47 826.85L524.48 819.98L522.39 812.97L520.2 805.79L517.88 798.46L515.43 790.96L512.84 783.29L510.1 775.43L507.2 767.37L504.13 759.12L500.86 750.65L497.4 741.95L493.71 733.02L489.78 723.83L485.59 714.39L481.12 704.66L476.35 694.63L471.26 684.29L465.83 673.61L460.02 662.57L453.82 651.14L447.21 639.3L440.16 627.02L432.66 614.25L424.69 600.97L416.23 587.13L407.27 572.68L397.82 557.56L387.87 541.7L377.42 525.04L366.48 507.49L355.04 488.94L343.12 469.28L330.73 448.36L317.85 426.02L304.48 402.03L290.62 376.15L276.24 348.05L261.33 317.3L245.85 283.37L229.78 245.51L213.08 202.69L195.73 153.42L177.77 95.4M566.88 865.3L565.81 859.2L564.69 852.98L563.52 846.64L562.3 840.18L561.01 833.58L559.66 826.85L558.24 819.98L556.75 812.97L555.17 805.79L553.5 798.46L551.74 790.96L549.87 783.29L547.9 775.43L545.79 767.37L543.56 759.12L541.18 750.65L538.64 741.95L535.92 733.02L533.01 723.83L529.89 714.39L526.54 704.66L522.93 694.63L519.04 684.29L514.84 673.61L510.3 662.57L505.39 651.14L500.07 639.3L494.3 627.02L488.04 614.25L481.25 600.97L473.89 587.13L465.92 572.68L457.31 557.56L448.01 541.7L438.02 525.04L427.31 507.49L415.88 488.94L403.74 469.28L390.88 448.36L377.32 426.02L363.07 402.03L348.15 376.15L332.53 348.05L316.23 317.3L299.2 283.37L281.42 245.51L262.84 202.69L243.4 153.42L223.09 95.4M597.3 865.3L596.62 859.2L595.9 852.98L595.15 846.64L594.37 840.18L593.54 833.58L592.68 826.85L591.77 819.98L590.8 812.97L589.79 805.79L588.72 798.46L587.58 790.96L586.37 783.29L585.09 775.43L583.73 767.37L582.28 759.12L580.73 750.65L579.06 741.95L577.28 733.02L575.37 723.83L573.31 714.39L571.09 704.66L568.68 694.63L566.07 684.29L563.23 673.61L560.14 662.57L556.76 651.14L553.06 639.3L549 627.02L544.52 614.25L539.58 600.97L534.11 587.13L528.05 572.68L521.33 557.56L513.86 541.7L505.57 525.04L496.38 507.49L486.2 488.94L474.98 469.28L462.68 448.36L449.26 426.02L434.73 402.03L419.1 376.15L402.4 348.05L384.65 317.3L365.88 283.37L346.07 245.51L325.17 202.69L303.14 153.42L279.88 95.4M627.86 865.3L627.51 859.2L627.14 852.98L626.76 846.64L626.35 840.18L625.92 833.58L625.47 826.85L625 819.98L624.49 812.97L623.96 805.79L623.39 798.46L622.79 790.96L622.15 783.29L621.46 775.43L620.73 767.37L619.95 759.12L619.11 750.65L618.2 741.95L617.23 733.02L616.18 723.83L615.04 714.39L613.81 704.66L612.47 694.63L611 684.29L609.4 673.61L607.64 662.57L605.71 651.14L603.57 639.3L601.2 627.02L598.56 614.25L595.62 600.97L592.31 587.13L588.59 572.68L584.38 557.56L579.6 541.7L574.14 525.04L567.89 507.49L560.71 488.94L552.43 469.28L542.88 448.36L531.87 426.02L519.24 402.03L504.83 376.15L488.55 348.05L470.38 317.3L450.35 283.37L428.56 245.51L405.05 202.69L379.83 153.42L352.86 95.4M658.57 865.3L658.5 859.2L658.42 852.98L658.34 846.64L658.24 840.18L658.14 833.58L658.03 826.85L657.92 819.98L657.79 812.97L657.65 805.79L657.49 798.46L657.33 790.96L657.14 783.29L656.94 775.43L656.72 767.37L656.48 759.12L656.21 750.65L655.91 741.95L655.59 733.02L655.23 723.83L654.83 714.39L654.38 704.66L653.89 694.63L653.34 684.29L652.72 673.61L652.03 662.57L651.25 651.14L650.37 639.3L649.38 627.02L648.26 614.25L646.98 600.97L645.51 587.13L643.83 572.68L641.89 557.56L639.63 541.7L637 525.04L633.91 507.49L630.26 488.94L625.91 469.28L620.68 448.36L614.36 426.02L606.66 402.03L597.21 376.15L585.57 348.05L571.25 317.3L553.78 283.37L532.79 245.51L508.21 202.69L480.16 153.42L448.89 95.4M689.43 865.3L689.58 859.2L689.73 852.98L689.89 846.64L690.05 840.18L690.21 833.58L690.38 826.85L690.54 819.98L690.71 812.97L690.88 805.79L691.05 798.46L691.23 790.96L691.4 783.29L691.58 775.43L691.75 767.37L691.93 759.12L692.1 750.65L692.27 741.95L692.44 733.02L692.6 723.83L692.76 714.39L692.91 704.66L693.05 694.63L693.18 684.29L693.29 673.61L693.39 662.57L693.46 651.14L693.51 639.3L693.52 627.02L693.5 614.25L693.42 600.97L693.29 587.13L693.08 572.68L692.78 557.56L692.37 541.7L691.82 525.04L691.1 507.49L690.15 488.94L688.92 469.28L687.32 448.36L685.25 426.02L682.54 402.03L678.97 376.15L674.22 348.05L667.83 317.3L659.08 283.37L646.97 245.51L630.05 202.69L606.66 153.42L575.48 95.4M720.41 865.3L720.74 859.2L721.07 852.98L721.42 846.64L721.78 840.18L722.14 833.58L722.52 826.85L722.9 819.98L723.3 812.97L723.71 805.79L724.13 798.46L724.57 790.96L725.01 783.29L725.47 775.43L725.94 767.37L726.43 759.12L726.93 750.65L727.45 741.95L727.98 733.02L728.53 723.83L729.1 714.39L729.68 704.66L730.28 694.63L730.9 684.29L731.53 673.61L732.19 662.57L732.86 651.14L733.56 639.3L734.27 627.02L735 614.25L735.75 600.97L736.51 587.13L737.29 572.68L738.09 557.56L738.89 541.7L739.69 525.04L740.5 507.49L741.28 488.94L742.04 469.28L742.74 448.36L743.36 426.02L743.85 402.03L744.15 376.15L744.15 348.05L743.69 317.3L742.51 283.37L740.17 245.51L735.92 202.69L728.31 153.42L714.55 95.4" stroke="#0000ff" stroke-opacity="0.5" stroke-width="1.39" fill="none" stroke-dasharray="5.14 2.22"/>
<path d="M-545.95 865.3L-101.45 95.4M-483.05 865.3L-38.55 95.4M-420.15 865.3L24.35 95.4M-357.25 865.3L87.25 95.4M-294.35 865.3L150.15 95.4M-231.45 865.3L213.05 95.4M-168.55 865.3L275.95 95.4M-105.65 865.3L338.85 95.4M-42.75 865.3L401.75 95.4M20.15 865.3L464.65 95.4M83.05 865.3L527.55 95.4M145.95 865.3L590.45 95.4M208.85 865.3L653.35 95.4M271.75 865.3L716.25 95.4M334.65 865.3L779.15 95.4M397.55 865.3L842.05 95.4M460.45 865.3L904.95 95.4M523.35 865.3L967.85 95.4M586.25 865.3L1030.75 95.4M649.15 865.3L1093.65 95.4M712.05 865.3L1156.55 95.4M83.5 95.5H712.5M83.5 322.5H712.5M83.5 455.5H712.5M83.5 549.5H712.5M83.5 622.5H712.5M83.5 682.5H712.5M83.5 733.5H712.5M83.5 776.5H712.5M83.5 815.5H712.5M83.5 849.5H712.5" stroke="#b0b0b0" stroke-width="1.11" fill="none" stroke-linecap="square"/>
<path d="M461.2 849.2L458.23 845.94L455.24 842.65L452.24 839.33L449.22 835.98L446.18 832.58L443.13 829.16L440.06 825.69L436.98 822.19L433.87 818.66L430.75 815.08L427.61 811.46L424.3 805.3L420.94 799.15L417.53 792.99L414.06 786.83L410.54 780.67L406.96 774.51L403.34 768.35L399.68 762.2L395.97 756.04L392.22 749.88L388.44 743.72L384.61 737.56L380.76 731.4L376.88 725.24L372.97 719.09L369.04 712.93L365.09 706.77L361.12 700.61L357.14 694.45L353.15 688.29L349.16 682.14L345.16 675.98L341.16 669.82L337.16 663.66L333.16 657.5L329.17 651.34L325.19 645.18L321.23 639.03L317.27 632.87L313.34 626.71L309.42 620.55L305.52 614.39L301.64 608.23L297.79 602.08L293.96 595.92L290.15 589.76L286.37 583.6L282.62 577.44L278.9 571.28L275.21 565.12L271.55 558.97L267.91 552.81L264.32 546.65L260.75 540.49L257.21 534.33L253.71 528.17L250.24 522.01L246.81 515.86L243.41 509.7L240.04 503.54L236.71 497.38L233.41 491.22L230.15 485.06L226.92 478.91L223.73 472.75L220.57 466.59L217.45 460.43L214.36 454.27L211.3 448.11L208.28 441.95L205.3 435.8L202.34 429.64L199.43 423.48L196.54 417.32L193.69 411.16L190.88 405L188.1 398.85L185.35 392.69L182.64 386.53L179.96 380.37L177.31 374.21L174.69 368.05L172.11 361.89L169.56 355.74L167.05 349.58L164.56 343.42L162.11 337.26L159.69 331.1L157.3 324.94L154.95 318.79L152.62 312.63L150.33 306.47L148.07 300.31L145.84 294.15L143.64 287.99L141.47 281.83L139.34 275.68L137.23 269.52L135.15 263.36L133.11 257.2L131.09 251.04L129.1 244.88L127.15 238.73L125.22 232.57L123.32 226.41L121.45 220.25L119.61 214.09L117.8 207.93L116.02 201.77L114.26 195.62L112.54 189.46L110.84 183.3L109.17 177.14L107.53 170.98L105.92 164.82L104.34 158.67L102.78 152.51L101.25 146.35L99.75 140.19L98.27 134.03L96.82 127.87L95.4 121.71L94 115.56L92.63 109.4L91.29 103.24L89.98 97.08L88.69 90.92L87.42 84.76L86.18 78.61" stroke="#000" stroke-width="3.47" fill="none" stroke-linecap="round"/>
<path d="M415.4 848.9L427.61 811.46" stroke="#000" stroke-width="3.47" fill="none" stroke-linecap="round"/>
<path d="M488.9 95.5L470 132.8L456.2 159.3L439.8 183.2L413.4 218.5L404.5 229.8L391.3 254.2L381.9 280.3L375.6 300.5L366.8 320.6L356.7 345.8L352.9 365.9L351.6 383.6L351.6 390L352.9 417.7L357.9 440.4L364.2 464.3L374.3 488.2L388.2 510.9L399.5 534.8L402 540L414.6 561.4L431 587.9L444.8 608L458.7 628.2L471.3 652.1L478.8 674.8L480.9 700L480.1 705.1L476.3 725.3L471.3 740.4L463.7 755.5L456.2 773.1L451.1 790.8L449.9 804.6L452.4 818.5L458.7 831.1L463.7 837.4L468.3 843.7L466.2 847.4L461.2 849.2" stroke="#ff0000" stroke-width="2.43" fill="none" stroke-linecap="round"/>
<path d="M399.5 95.5L335.3 206.4L331.5 231L334 253.9L331.5 277.8L325.2 310.5L322.7 328.2L322.2 348.3L323.9 376L323.9 390L325.2 416.4L331.5 440.4L337.8 464.3L349.1 487L364.6 510.3L370.4 534.5L366.8 540L359.2 548.7L336 581.1L347.5 604.8L375.9 628.5L394 651.5L393.2 675.3L380.6 690L374.3 698.8L345.3 721.5L330.2 741.6L329.7 760.5L337.8 790.8L345.3 804.6L361.7 814.7L397 829.8L404.5 836.1L410.8 843.7L418.4 846.7L428.5 848.7" stroke="#008000" stroke-width="2.22" fill="none" stroke-linecap="round"/>
</g>
<path d="M83.5 95.5H712.5V865.5H83.5Z" stroke="#000" stroke-width="1.11" fill="none" stroke-linecap="square" stroke-linejoin="miter"/>
<path d="M83.5 865.5v4.86M146.5 865.5v4.86M209.5 865.5v4.86M272.5 865.5v4.86M335.5 865.5v4.86M398.5 865.5v4.86M460.5 865.5v4.86M523.5 865.5v4.86M586.5 865.5v4.86M649.5 865.5v4.86M712.5 865.5v4.86M83.5 95.5h-4.86M83.5 322.5h-4.86M83.5 455.5h-4.86M83.5 549.5h-4.86M83.5 622.5h-4.86M83.5 682.5h-4.86M83.5 733.5h-4.86M83.5 776.5h-4.86M83.5 815.5h-4.86M83.5 849.5h-4.86" stroke="#000" stroke-width="1.11" fill="none"/>
<path d="M712.05 849L683.57 830.38L688.91 833.87L690.86 827.01L688.91 833.87ZM712.05 843.7L694.44 814.58L703.89 803.9L694.44 814.58ZM712.05 835.5L698.66 804.22L709.5 794.95L698.66 804.22ZM712.05 823.7L706.05 790.21L718.7 783.62L706.05 790.21ZM712.05 804L705.45 770.62L717.98 763.81L705.45 770.62ZM712.05 777.3L697.68 746.46L708.22 736.85L697.68 746.46ZM712.05 742.3L692.61 714.37L701.35 703.11L692.61 714.37L695.04 717.86L699.41 712.23L695.04 717.86ZM712.05 698.7L687.46 675.18L693.79 662.41L687.46 675.18L690.53 678.12L696.86 665.35L690.53 678.12L693.6 681.06L696.77 674.67L693.6 681.06ZM712.05 651.8L686.27 629.59L691.93 616.5L686.27 629.59L689.49 632.37L695.15 619.28L689.49 632.37L692.71 635.14L695.54 628.6L692.71 635.14ZM712.05 605L687.21 581.74L693.41 568.9L687.21 581.74L690.32 584.65L696.51 571.81L690.32 584.65L693.42 587.56L696.52 581.14L693.42 587.56ZM712.05 558L685.74 536.42L691.08 523.2L685.74 536.42L689.03 539.12L694.37 525.9L689.03 539.12L692.32 541.82L697.66 528.59L692.32 541.82ZM712.05 511.2L683.16 493.23L686.73 479.42L683.16 493.23L686.77 495.47L690.35 481.67L686.77 495.47L690.38 497.72L693.96 483.92L690.38 497.72L693.99 499.97L695.78 493.06L693.99 499.97ZM712.05 464.3L682.73 447.04L685.96 433.15L682.73 447.04L686.39 449.2L689.63 435.31L686.39 449.2L690.06 451.35L693.3 437.47L690.06 451.35L693.72 453.51L696.96 439.62L693.72 453.51ZM712.05 417.5L682.73 400.24L685.96 386.35L682.73 400.24L686.39 402.4L689.63 388.51L686.39 402.4L690.06 404.55L693.3 390.67L690.06 404.55L693.72 406.71L696.96 392.82L693.72 406.71L697.39 408.87L699.01 401.93L697.39 408.87ZM712.05 371.1L683.74 352.22L687.75 338.54L683.74 352.22L687.28 354.58L691.29 340.9L687.28 354.58L690.82 356.94L694.83 343.26L690.82 356.94L694.35 359.3L698.37 345.62L694.35 359.3L697.89 361.66L699.9 354.82L697.89 361.66ZM712.05 323.8L682.51 306.91L685.58 292.98L682.51 306.91L686.2 309.02L689.27 295.09L686.2 309.02L689.9 311.13L692.96 297.2L689.9 311.13L693.59 313.24L696.65 299.31L693.59 313.24L697.28 315.35L698.81 308.39L697.28 315.35ZM712.05 277.4L681.52 262.38L683.71 248.29L681.52 262.38L685.33 264.25L687.53 250.16L685.33 264.25L689.15 266.13L691.34 252.04L689.15 266.13L692.97 268.01L695.16 253.92L692.97 268.01L696.78 269.89L697.88 262.84L696.78 269.89ZM712.05 230.7L682.51 213.81L685.58 199.88L682.51 213.81L686.2 215.92L689.27 201.99L686.2 215.92L689.9 218.03L692.96 204.1L689.9 218.03L693.59 220.14L696.65 206.21L693.59 220.14L697.28 222.25L698.81 215.29L697.28 222.25ZM712.05 183.8L682.98 166.11L686.43 152.27L682.98 166.11L686.62 168.32L690.06 154.48L686.62 168.32L690.25 170.53L693.69 156.69L690.25 170.53L693.88 172.74L695.61 165.82L693.88 172.74ZM712.05 137L682.18 120.71L684.96 106.72L682.18 120.71L685.91 122.74L688.69 108.76L685.91 122.74L689.65 124.78L692.43 110.79L689.65 124.78L693.38 126.82L694.77 119.82L693.38 126.82Z" stroke="#000" stroke-width="1.75" fill="#000" stroke-linejoin="round"/>
<rect x="91.25" y="704.25" width="154" height="154" fill="#fff"/>
<g clip-path="url(#ch)">
<path d="M168.25 806.92A25.67 25.67 0 0 0 168.25 755.58A25.67 25.67 0 0 0 168.25 806.92M168.25 832.58A51.33 51.33 0 0 0 168.25 729.92A51.33 51.33 0 0 0 168.25 832.58M168.25 858.25A77 77 0 0 0 168.25 704.25A77 77 0 0 0 168.25 858.25M168.25 883.92A102.67 102.67 0 0 0 168.25 678.58A102.67 102.67 0 0 0 168.25 883.92" stroke="#808080" stroke-width="1.39" fill="none" stroke-dasharray="5.14 2.22"/>
<path d="M91.25 781H245.25M168 858.25V704.25" stroke="#808080" stroke-width="2.08" fill="none" stroke-dasharray="7.71 3.33"/>
<path d="M176.8 787.3L179.6 793.6" stroke="#440154" stroke-width="4.17" fill="none"/>
<path d="M179.6 793.6L179.4 799.1" stroke="#440154" stroke-width="4.17" fill="none"/>
<path d="M179.4 799.1L177.8 803.7" stroke="#45045a" stroke-width="4.17" fill="none"/>
<path d="M177.8 803.7L171.5 806.7" stroke="#46085c" stroke-width="4.17" fill="none"/>
<path d="M171.5 806.7L177.6 805.2" stroke="#471365" stroke-width="4.17" fill="none"/>
<path d="M177.6 805.2L185 810.6" stroke="#482374" stroke-width="4.17" fill="none"/>
<path d="M185 810.6L190.7 814.7" stroke="#472f7d" stroke-width="4.17" fill="none"/>
<path d="M190.7 814.7L200.6 819.2" stroke="#443a83" stroke-width="4.17" fill="none"/>
<path d="M200.6 819.2L209.6 821.7" stroke="#404588" stroke-width="4.17" fill="none"/>
<path d="M209.6 821.7L216.9 822.9" stroke="#3e4c8a" stroke-width="4.17" fill="none"/>
<path d="M215.7 826.6L223.5 827.8" stroke="#21918c" stroke-width="4.17" fill="none"/>
<path d="M223.5 827.8L232.5 829.1" stroke="#21918c" stroke-width="4.17" fill="none"/>
<path d="M232.5 829.1L244.3 829.9" stroke="#21918c" stroke-width="4.17" fill="none"/>
<path d="M244.3 829.9L252 830.4" stroke="#fde725" stroke-width="4.17" fill="none"/>
</g>
<rect x="91.5" y="704.5" width="154" height="154" stroke="#000" stroke-width="1.11" fill="none"/>
<g style="will-change:transform" font-family="'Liberation Sans', sans-serif" fill="#000">
<text x="69.18" y="886" font-size="14.17" textLength="28.48" lengthAdjust="spacingAndGlyphs">−60</text>
<text x="132.21" y="886" font-size="14.17" textLength="27.43" lengthAdjust="spacingAndGlyphs">−50</text>
<text x="195.21" y="886" font-size="14.17" textLength="27.43" lengthAdjust="spacingAndGlyphs">−40</text>
<text x="258.21" y="886" font-size="14.17" textLength="27.43" lengthAdjust="spacingAndGlyphs">−30</text>
<text x="321.21" y="886" font-size="14.17" textLength="27.43" lengthAdjust="spacingAndGlyphs">−20</text>
<text x="384.18" y="886" font-size="14.17" textLength="28.48" lengthAdjust="spacingAndGlyphs">−10</text>
<text x="457.43" y="886" font-size="14.17" textLength="8.14" lengthAdjust="spacingAndGlyphs">0</text>
<text x="515.86" y="886" font-size="14.17" textLength="16.73" lengthAdjust="spacingAndGlyphs">10</text>
<text x="578.22" y="886" font-size="14.17" textLength="17.4" lengthAdjust="spacingAndGlyphs">20</text>
<text x="641.45" y="886" font-size="14.17" textLength="16.12" lengthAdjust="spacingAndGlyphs">30</text>
<text x="703.65" y="886" font-size="14.17" textLength="16.95" lengthAdjust="spacingAndGlyphs">40</text>
<text x="47.83" y="101" font-size="14.17" textLength="25.78" lengthAdjust="spacingAndGlyphs">100</text>
<text x="47.21" y="328" font-size="14.17" textLength="26.42" lengthAdjust="spacingAndGlyphs">200</text>
<text x="47.4" y="461" font-size="14.17" textLength="26.22" lengthAdjust="spacingAndGlyphs">300</text>
<text x="47.64" y="555" font-size="14.17" textLength="25.97" lengthAdjust="spacingAndGlyphs">400</text>
<text x="48.4" y="628" font-size="14.17" textLength="25.2" lengthAdjust="spacingAndGlyphs">500</text>
<text x="47.19" y="688" font-size="14.17" textLength="26.43" lengthAdjust="spacingAndGlyphs">600</text>
<text x="48.22" y="739" font-size="14.17" textLength="25.38" lengthAdjust="spacingAndGlyphs">700</text>
<text x="47.32" y="782" font-size="14.17" textLength="26.3" lengthAdjust="spacingAndGlyphs">800</text>
<text x="48.29" y="821" font-size="14.17" textLength="25.31" lengthAdjust="spacingAndGlyphs">900</text>
<text x="38.81" y="855" font-size="14.17" textLength="34.81" lengthAdjust="spacingAndGlyphs">1000</text>
<text x="335.65" y="908" font-size="14.17" textLength="98.44" lengthAdjust="spacingAndGlyphs">Temperature (</text>
<circle cx="441" cy="899" r="1.6" fill="none" stroke="#000" stroke-width="0.9"/>
<text x="446.3" y="908" font-size="14.17" textLength="14.56" lengthAdjust="spacingAndGlyphs">C)</text>
<text x="0" y="0" font-size="14.17" textLength="100.14" lengthAdjust="spacingAndGlyphs" transform="translate(29.2 532.42) rotate(-90)">Pressure (hPa)</text>
<text x="10.55" y="20.65" font-size="14.17" font-weight="bold" stroke="#000" stroke-width="0.18" textLength="88.52" lengthAdjust="spacingAndGlyphs">SkewTLogP</text>
<text x="103.97" y="20.65" font-size="14.17" font-weight="bold" stroke="#000" stroke-width="0.18" textLength="60.1" lengthAdjust="spacingAndGlyphs">Odiham</text>
<text x="10.17" y="36.5" font-size="14.17" font-weight="bold" stroke="#000" stroke-width="0.18" textLength="30.28" lengthAdjust="spacingAndGlyphs">Lat:</text>
<text x="45.79" y="36.5" font-size="14.17" font-weight="bold" stroke="#000" stroke-width="0.18" textLength="42.91" lengthAdjust="spacingAndGlyphs">51.23</text>
<text x="103.93" y="36.5" font-size="14.17" font-weight="bold" stroke="#000" stroke-width="0.18" textLength="33.52" lengthAdjust="spacingAndGlyphs">Lon:</text>
<text x="142.43" y="36.5" font-size="14.17" font-weight="bold" stroke="#000" stroke-width="0.18" textLength="39.42" lengthAdjust="spacingAndGlyphs">-0.94</text>
<text x="10.53" y="52.7" font-size="14.17" font-weight="bold" stroke="#000" stroke-width="0.18" textLength="83.48" lengthAdjust="spacingAndGlyphs">Simulation</text>
<text x="99.04" y="52.7" font-size="14.17" font-weight="bold" stroke="#000" stroke-width="0.18" textLength="37.55" lengthAdjust="spacingAndGlyphs">start</text>
<text x="141.5" y="52.7" font-size="14.17" font-weight="bold" stroke="#000" stroke-width="0.18" textLength="40.97" lengthAdjust="spacingAndGlyphs">time:</text>
<text x="187.71" y="52.7" font-size="14.17" font-weight="bold" stroke="#000" stroke-width="0.18" textLength="169.38" lengthAdjust="spacingAndGlyphs">2024-01-15_00:00:00,</text>
<text x="362.15" y="52.7" font-size="14.17" font-weight="bold" stroke="#000" stroke-width="0.18" textLength="38.8" lengthAdjust="spacingAndGlyphs">Valid</text>
<text x="405.83" y="52.7" font-size="14.17" font-weight="bold" stroke="#000" stroke-width="0.18" textLength="40.97" lengthAdjust="spacingAndGlyphs">time:</text>
<text x="452.03" y="52.7" font-size="14.17" font-weight="bold" stroke="#000" stroke-width="0.18" textLength="191.56" lengthAdjust="spacingAndGlyphs">2024-01-15T18:00:00.00</text>
<text x="10.05" y="69.6" font-size="14.17" font-weight="bold" stroke="#000" stroke-width="0.18" textLength="61.86" lengthAdjust="spacingAndGlyphs">CAPE=0</text>
<text x="76.56" y="69.6" font-size="14.17" font-weight="bold" stroke="#000" stroke-width="0.18" textLength="34.2" lengthAdjust="spacingAndGlyphs">j/kg,</text>
<text x="115.87" y="69.6" font-size="14.17" font-weight="bold" stroke="#000" stroke-width="0.18" textLength="48.32" lengthAdjust="spacingAndGlyphs">CIN=0</text>
<text x="168.81" y="69.6" font-size="14.17" font-weight="bold" stroke="#000" stroke-width="0.18" textLength="34.2" lengthAdjust="spacingAndGlyphs">j/kg,</text>
<text x="208.31" y="69.6" font-size="14.17" font-weight="bold" stroke="#000" stroke-width="0.18" textLength="67.94" lengthAdjust="spacingAndGlyphs">LCL=887</text>
<text x="281.51" y="69.6" font-size="14.17" font-weight="bold" stroke="#000" stroke-width="0.18" textLength="33.96" lengthAdjust="spacingAndGlyphs">hPa,</text>
<text x="320.85" y="69.6" font-size="14.17" font-weight="bold" stroke="#000" stroke-width="0.18" textLength="69.02" lengthAdjust="spacingAndGlyphs">LFC=nan</text>
<text x="394.84" y="69.6" font-size="14.17" font-weight="bold" stroke="#000" stroke-width="0.18" textLength="33.96" lengthAdjust="spacingAndGlyphs">hPa,</text>
<text x="434.17" y="69.6" font-size="14.17" font-weight="bold" stroke="#000" stroke-width="0.18" textLength="61.81" lengthAdjust="spacingAndGlyphs">EQ=nan</text>
<text x="501" y="69.6" font-size="14.17" font-weight="bold" stroke="#000" stroke-width="0.18" textLength="27.76" lengthAdjust="spacingAndGlyphs">hPa</text>
<text x="10.99" y="86.9" font-size="14.17" font-weight="bold" stroke="#000" stroke-width="0.18" textLength="27.63" lengthAdjust="spacingAndGlyphs">LFT</text>
<text x="43.5" y="86.9" font-size="14.17" font-weight="bold" stroke="#000" stroke-width="0.18" textLength="57.76" lengthAdjust="spacingAndGlyphs">IDX=23</text>
<text x="112.39" y="86.9" font-size="14.17" font-weight="bold" stroke="#000" stroke-width="0.18" textLength="14.98" lengthAdjust="spacingAndGlyphs">C,</text>
<text x="132.86" y="86.9" font-size="14.17" font-weight="bold" stroke="#000" stroke-width="0.18" textLength="11.09" lengthAdjust="spacingAndGlyphs">K</text>
<text x="148.33" y="86.9" font-size="14.17" font-weight="bold" stroke="#000" stroke-width="0.18" textLength="63.5" lengthAdjust="spacingAndGlyphs">IDX=-32</text>
<text x="222.39" y="86.9" font-size="14.17" font-weight="bold" stroke="#000" stroke-width="0.18" textLength="14.98" lengthAdjust="spacingAndGlyphs">C,</text>
<text x="242.51" y="86.9" font-size="14.17" font-weight="bold" stroke="#000" stroke-width="0.18" textLength="49.48" lengthAdjust="spacingAndGlyphs">TOTAL</text>
<text x="296.61" y="86.9" font-size="14.17" font-weight="bold" stroke="#000" stroke-width="0.18" textLength="71.31" lengthAdjust="spacingAndGlyphs">TOTS=13</text>
<text x="380.39" y="86.9" font-size="14.17" font-weight="bold" stroke="#000" stroke-width="0.18" textLength="14.98" lengthAdjust="spacingAndGlyphs">C,</text>
<text x="401.15" y="86.9" font-size="14.17" font-weight="bold" stroke="#000" stroke-width="0.18" textLength="121.39" lengthAdjust="spacingAndGlyphs">SHWTR_IDX=21</text>
<text x="533.46" y="86.9" font-size="14.17" font-weight="bold" stroke="#000" stroke-width="0.18" textLength="9.51" lengthAdjust="spacingAndGlyphs">C</text>
<circle cx="106" cy="77.9" r="1.45" fill="none" stroke="#000" stroke-width="0.9"/>
<circle cx="217" cy="77.9" r="1.45" fill="none" stroke="#000" stroke-width="0.9"/>
<circle cx="374" cy="77.9" r="1.45" fill="none" stroke="#000" stroke-width="0.9"/>
<circle cx="527" cy="77.9" r="1.45" fill="none" stroke="#000" stroke-width="0.9"/>
<text x="123.79" y="681.75" font-size="12.75" font-weight="bold" stroke="#000" stroke-width="0.18" textLength="35.47" lengthAdjust="spacingAndGlyphs">Wind</text>
<text x="163.86" y="681.75" font-size="12.75" font-weight="bold" stroke="#000" stroke-width="0.18" textLength="45.67" lengthAdjust="spacingAndGlyphs">Profile</text>
<text x="111.37" y="696.7" font-size="12.75" font-weight="bold" stroke="#000" stroke-width="0.18" textLength="41.97" lengthAdjust="spacingAndGlyphs">10m/s</text>
<text x="157.67" y="696.7" font-size="12.75" font-weight="bold" stroke="#000" stroke-width="0.18" textLength="71.51" lengthAdjust="spacingAndGlyphs">increment</text>
</g>
</svg>
</body></html>
